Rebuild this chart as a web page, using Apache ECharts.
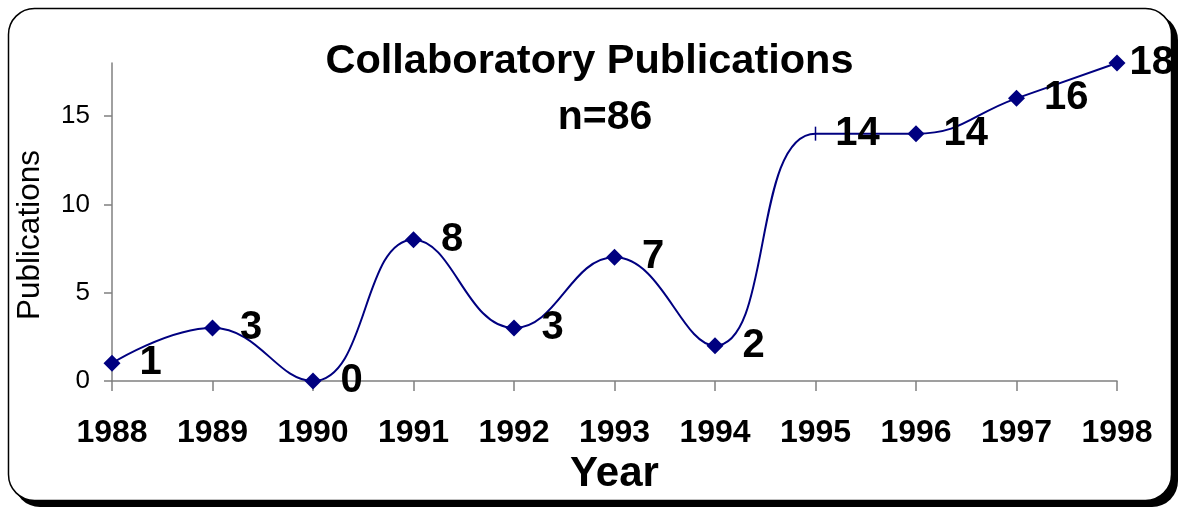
<!DOCTYPE html>
<html>
<head>
<meta charset="utf-8">
<script src="https://cdn.jsdelivr.net/npm/echarts@6/dist/echarts.min.js"></script>
<style>
html,body{margin:0;padding:0;background:#fff;}
#main{width:1179px;height:508px;}
</style>
</head>
<body>
<div id="main"></div>
<script>
const years = ['1988','1989','1990','1991','1992','1993','1994','1995','1996','1997','1998'];
const publications = [1, 3, 0, 8, 3, 7, 2, 14, 14, 16, 18];
const yTickValues = [0, 5, 10, 15];
const titleText = 'Collaboratory Publications';
const subText = 'n=86';

const FONT = '"Liberation Sans", Arial, sans-serif';
const chart = echarts.init(document.getElementById('main'));

const seriesData = publications.map((v, i) => {
  const item = { value: v };
  if (i === 7) {
    item.symbol = 'rect';
    item.symbolSize = [1.5, 14];
  }
  if (i === publications.length - 1) {
    item.label = { distance: 4 };
  }
  return item;
});

chart.setOption({
  animation: false,
  backgroundColor: 'transparent',
  graphic: [
    { type: 'rect', z: -100, shape: { x: 14, y: 14, width: 1164, height: 493, r: 26 }, style: { fill: '#000' } },
    { type: 'rect', z: -99, shape: { x: 8.5, y: 8.5, width: 1163, height: 492, r: 26 }, style: { fill: '#fff', stroke: '#000', lineWidth: 1.5 } }
  ],
  title: [
    { text: titleText, left: 'center', top: 36, textStyle: { fontFamily: FONT, fontSize: 41.5, fontWeight: 'bold', color: '#000' } },
    { text: subText, left: 600, top: 92, textAlign: 'center', textStyle: { fontFamily: FONT, fontSize: 41, fontWeight: 'bold', color: '#000' } }
  ],
  grid: { left: 112, right: 62, top: 63, bottom: 127, containLabel: false },
  xAxis: {
    type: 'category',
    data: years,
    boundaryGap: false,
    name: 'Year',
    nameLocation: 'middle',
    nameGap: 60,
    nameTextStyle: { fontFamily: FONT, fontSize: 42, fontWeight: 'bold', color: '#000' },
    axisLine: { lineStyle: { color: '#808080', width: 1.5 } },
    axisTick: { alignWithLabel: true, length: 10, lineStyle: { color: '#808080', width: 1.5 } },
    axisLabel: { margin: 36, fontFamily: FONT, fontSize: 32, fontWeight: 'bold', color: '#000' },
    splitLine: { show: false }
  },
  yAxis: {
    type: 'value',
    min: 0,
    max: 18,
    interval: 5,
    name: 'Publications',
    nameLocation: 'middle',
    nameGap: 66,
    nameTextStyle: { fontFamily: FONT, fontSize: 31.5, color: '#000', padding: [0, 26, 0, 0] },
    axisLine: { show: true, lineStyle: { color: '#808080', width: 1.5 } },
    axisTick: { show: true, length: 8, customValues: yTickValues, lineStyle: { color: '#808080', width: 1.5 } },
    axisLabel: { margin: 22, customValues: yTickValues, fontFamily: FONT, fontSize: 26, color: '#000' },
    splitLine: { show: false }
  },
  series: [{
    type: 'line',
    data: seriesData,
    smooth: 0.45,
    symbol: 'diamond',
    symbolSize: 17,
    lineStyle: { color: '#000080', width: 2 },
    itemStyle: { color: '#000080' },
    label: {
      show: true,
      position: 'right',
      distance: 19,
      fontFamily: FONT,
      fontSize: 40,
      fontWeight: 'bold',
      color: '#000'
    }
  }]
});
</script>
</body>
</html>
